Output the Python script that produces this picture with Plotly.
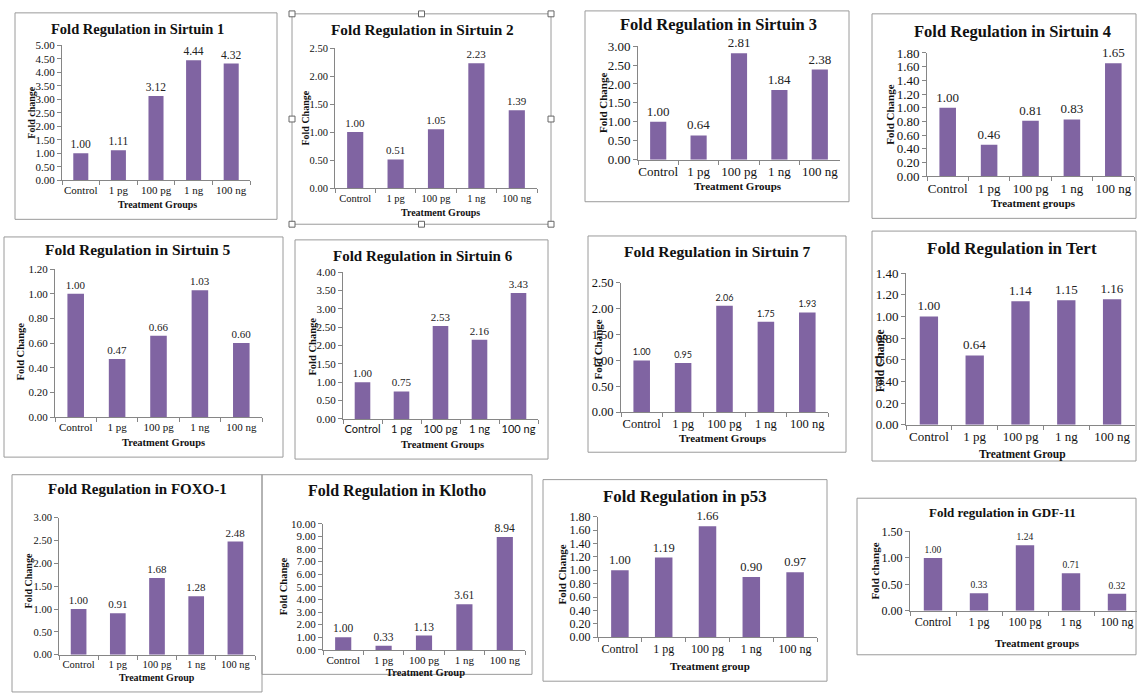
import plotly.graph_objects as go

W, H = 1137, 698

groups = ["Control", "1 pg", "100 pg", "1 ng", "100 ng"]

sirt1 = [1.00, 1.11, 3.12, 4.44, 4.32]
sirt2 = [1.00, 0.51, 1.05, 2.23, 1.39]
sirt3 = [1.00, 0.64, 2.81, 1.84, 2.38]
sirt4 = [1.00, 0.46, 0.81, 0.83, 1.65]
sirt5 = [1.00, 0.47, 0.66, 1.03, 0.60]
sirt6 = [1.00, 0.75, 2.53, 2.16, 3.43]
sirt7 = [1.00, 0.95, 2.06, 1.75, 1.93]
tert = [1.00, 0.64, 1.14, 1.15, 1.16]
foxo1 = [1.00, 0.91, 1.68, 1.28, 2.48]
klotho = [1.00, 0.33, 1.13, 3.61, 8.94]
p53 = [1.00, 1.19, 1.66, 0.90, 0.97]
gdf11 = [1.00, 0.33, 1.24, 0.71, 0.32]

titles = ["Fold Regulation in Sirtuin 1", "Fold Regulation in Sirtuin 2", "Fold Regulation in Sirtuin 3",
          "Fold Regulation in Sirtuin 4", "Fold Regulation in Sirtuin 5", "Fold Regulation in Sirtuin 6",
          "Fold Regulation in Sirtuin 7", "Fold Regulation in Tert", "Fold Regulation in FOXO-1",
          "Fold Regulation in Klotho", "Fold Regulation in p53", "Fold regulation in GDF-11"]
ytitles = ["Fold change", "Fold Change", "Fold Change", "Fold Change", "Fold Change", "Fold Change",
           "Fold Change", "Fold Change", "Fold Change", "Fold Change", "Fold Change", "Fold change"]
xtitles = ["Treatment Groups", "Treatment Groups", "Treatment Groups", "Treatment groups", "Treatment Groups",
           "Treatment Groups", "Treatment Groups", "Treatment Group", "Treatment Group", "Treatment Group",
           "Treatment group", "Treatment groups"]
ymax = [5, 2.5, 3, 1.8, 1.2, 4, 2.5, 1.4, 3, 10, 1.8, 1.5]
ystep = [0.5, 0.5, 0.5, 0.2, 0.2, 0.5, 0.5, 0.2, 0.5, 1, 0.2, 0.5]
series = [sirt1, sirt2, sirt3, sirt4, sirt5, sirt6, sirt7, tert, foxo1, klotho, p53, gdf11]

PURPLE = "#8064A2"
AX = "#868686"
SERIF = "Liberation Serif, Times New Roman, serif"
SANS = "Lato, Open Sans, sans-serif"

# layout (pixels): box, plot area (x0,x1,ytop,ybottom), title pos, ytitle pos, xtitle pos,
# title size, tick size, label size, axis-title size
panels = [
    dict(box=(15, 6, 277, 217), plot=(62, 250, 39, 177), t=(137, 22), ty=(32, 108), tx=(157, 202),
         ts=14.5, tk=11, lb=11.5, at=10),
    dict(box=(292, 7, 551, 222), plot=(335, 537, 42, 185), t=(422, 23), ty=(306, 114), tx=(440, 210),
         ts=15.3, tk=10.5, lb=11, at=10),
    dict(box=(585, 4, 849, 199), plot=(638, 840, 40, 156), t=(718, 18), ty=(603, 98), tx=(738, 183),
         ts=16.5, tk=13, lb=13, at=11),
    dict(box=(872, 7, 1136, 216), plot=(927, 1134, 47, 173), t=(1012, 25), ty=(890, 110), tx=(1033, 200),
         ts=16.5, tk=13, lb=13, at=11),
    dict(box=(4, 235, 283, 460), plot=(55, 262, 268, 419), t=(137, 248), ty=(20, 352), tx=(163, 445),
         ts=15.5, tk=11, lb=11, at=10.5),
    dict(box=(295, 238, 548, 462), plot=(343, 538, 271, 421), t=(423, 254), ty=(313, 347), tx=(442, 447),
         ts=15, tk=11, lb=11, at=10.5),
    dict(box=(588, 234, 846, 455), plot=(621, 828, 282, 414), t=(717, 250), ty=(598, 350), tx=(723, 440),
         ts=15.6, tk=12.5, lb=9, at=11),
    dict(box=(872, 229, 1136, 464), plot=(906, 1135, 272, 427), t=(1012, 247), ty=(880, 362), tx=(1022, 457),
         ts=17, tk=13, lb=13, at=11.5),
    dict(box=(12, 478, 262, 700), plot=(59, 255, 522, 662), t=(137, 493), ty=(28, 587), tx=(157, 685),
         ts=15, tk=10.5, lb=11, at=10),
    dict(box=(262, 478, 532, 682), plot=(323, 525, 528, 657), t=(397, 495), ty=(283, 592), tx=(425, 680),
         ts=16, tk=11, lb=11.5, at=10.5),
    dict(box=(543, 483, 827, 689), plot=(598, 817, 521, 644), t=(685, 500), ty=(562, 580), tx=(710, 673),
         ts=16.8, tk=12, lb=12.5, at=11),
    dict(box=(857, 502, 1136, 662), plot=(910, 1140, 536, 617), t=(1002, 517), ty=(875, 577), tx=(1037, 650),
         ts=13, tk=12, lb=9.5, at=11),
]

def fx(px):
    return px / W

def fy(py):
    return 1 - py / H

fig = go.Figure()
layout = dict(width=W, height=H, margin=dict(l=0, r=0, t=0, b=0), paper_bgcolor="white",
              plot_bgcolor="rgba(0,0,0,0)", showlegend=False, bargap=0.6)
shapes = []
annotations = []

for i, (vals, p) in enumerate(zip(series, panels)):
    n = i + 1
    xa = "x" if n == 1 else f"x{n}"
    ya = "y" if n == 1 else f"y{n}"
    lab_font = SANS if n == 7 else SERIF
    xt_font = SANS if n == 6 else SERIF
    fig.add_trace(go.Bar(x=groups, y=vals, xaxis=xa, yaxis=ya, marker_color=PURPLE,
                         marker_line_width=0, text=[f"{v:.2f}" for v in vals],
                         textposition="outside", cliponaxis=False, constraintext="none",
                         textfont=dict(family=lab_font, size=p["lb"], color="#222")))
    x0, x1, yt, yb = p["plot"]
    x1c = min(x1, W)
    xr1 = -0.5 + 5 * (x1c - x0) / (x1 - x0)
    layout["xaxis" if n == 1 else f"xaxis{n}"] = dict(
        domain=[fx(x0), fx(x1c)], anchor=ya, type="category", range=[-0.5, xr1],
        showline=True, linecolor=AX, linewidth=1, ticks="outside", tickson="boundaries",
        ticklen=4, tickcolor=AX, showgrid=False, zeroline=False, tickangle=0,
        tickfont=dict(family=xt_font, size=p["tk"], color="#111"), fixedrange=True)
    layout["yaxis" if n == 1 else f"yaxis{n}"] = dict(
        domain=[fy(yb), fy(yt)], anchor=xa, range=[0, ymax[i]], dtick=ystep[i], tick0=0,
        tickformat=".2f", showline=True, linecolor=AX, linewidth=1, ticks="outside",
        ticklen=4, tickcolor=AX, showgrid=False, zeroline=False,
        tickfont=dict(family=SERIF, size=p["tk"], color="#111"), fixedrange=True)
    bx0, by0, bx1, by1 = p["box"]
    shapes.append(dict(type="rect", xref="paper", yref="paper", x0=fx(bx0), x1=fx(bx1),
                       y0=fy(by1), y1=fy(by0), line=dict(color="#9a9a9a", width=1)))
    annotations.append(dict(text=f"<b>{titles[i]}</b>", x=fx(p["t"][0]), y=fy(p["t"][1]),
                            xref="paper", yref="paper", showarrow=False, xanchor="center",
                            yanchor="middle", font=dict(family=SERIF, size=p["ts"], color="#111")))
    annotations.append(dict(text=f"<b>{ytitles[i]}</b>", x=fx(p["ty"][0]), y=fy(p["ty"][1]),
                            xref="paper", yref="paper", showarrow=False, textangle=-90,
                            xanchor="center", yanchor="middle",
                            font=dict(family=SERIF, size=p["at"], color="#111")))
    annotations.append(dict(text=f"<b>{xtitles[i]}</b>", x=fx(p["tx"][0]), y=fy(p["tx"][1]),
                            xref="paper", yref="paper", showarrow=False, xanchor="center",
                            yanchor="middle", font=dict(family=SERIF, size=p["at"], color="#111")))

# selection handles around Sirtuin 2 panel
hx = [292, 421.5, 551]
hy = [7, 114.5, 222]
for cx in hx:
    for cy in hy:
        if cx == 421.5 and cy == 114.5:
            continue
        shapes.append(dict(type="rect", xref="paper", yref="paper",
                           x0=fx(cx - 3), x1=fx(cx + 3), y0=fy(cy + 3), y1=fy(cy - 3),
                           line=dict(color="#666", width=1), fillcolor="white"))

layout["shapes"] = shapes
layout["annotations"] = annotations
fig.update_layout(**layout)
fig.write_html("out.html", config={"displayModeBar": False},
               post_script="document.body.style.margin='0';")
